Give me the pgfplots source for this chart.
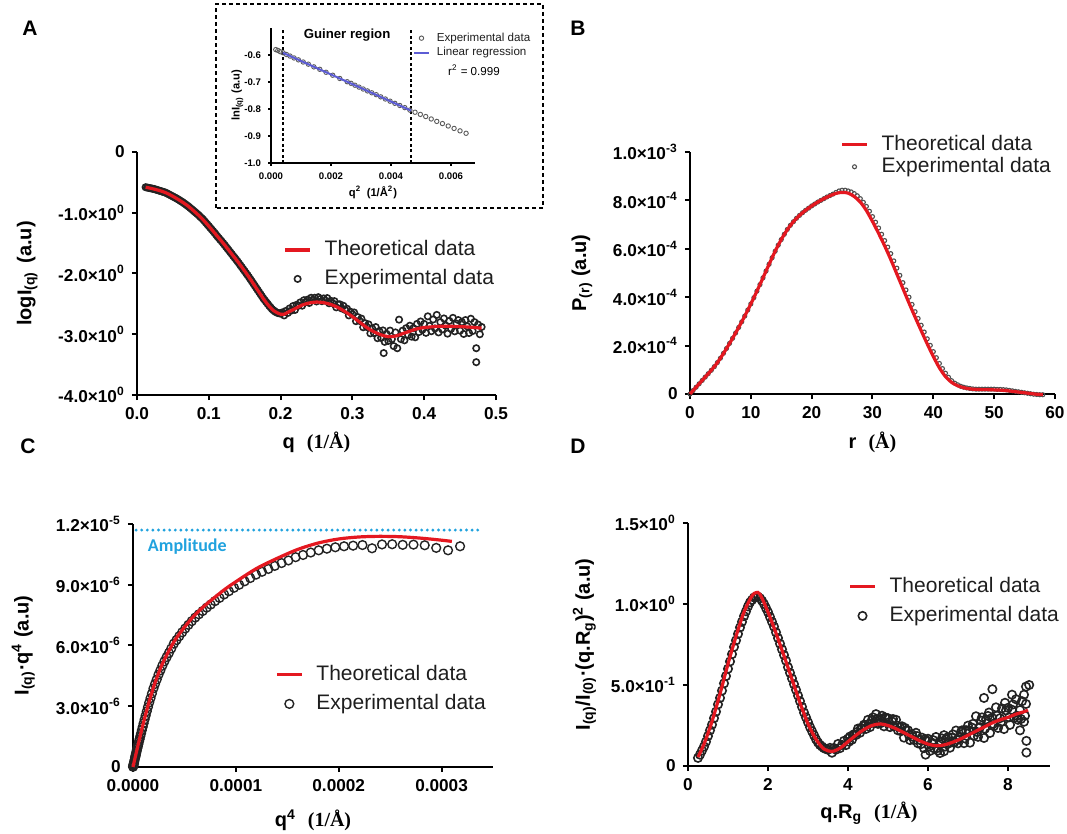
\documentclass[border=0pt]{standalone}
\usepackage{fontspec}
\setmainfont{Liberation Sans}
\newfontfamily\serifU{Liberation Serif}
\newfontfamily\carlito{Carlito}
\usepackage{pgfplots}
\pgfplotsset{compat=1.18}

\definecolor{tred}{RGB}{228,24,32}
\definecolor{expc}{RGB}{35,35,35}
\definecolor{ampc}{RGB}{32,162,222}
\definecolor{regc}{RGB}{92,92,212}
\definecolor{legc}{RGB}{30,30,30}

\newcommand\tickf{\bfseries\fontsize{8.6}{10}\selectfont}
\newcommand\labf{\bfseries\fontsize{10}{12}\selectfont}
\newcommand\legf{\fontsize{10.5}{12}\selectfont}

\pgfplotsset{
  legend image code/.code={\draw[mark repeat=2,mark phase=2,#1] plot coordinates {(0cm,0cm) (0.22cm,0cm) (0.44cm,0cm)};},
  gp/.style={
    scale only axis, anchor=south west, clip=false, clip mode=individual,
    axis lines=left, axis line style={line width=1pt,-},
    tick style={black,line width=1pt}, major tick length=2.6pt, tick align=outside,
    ticklabel style={font=\tickf}, scaled ticks=false,
    legend cell align=left,
    legend style={draw=none, fill=none, font=\legf, text=legc, inner sep=0pt, column sep=5.5pt,
      nodes={inner sep=1pt, text height=7.5pt, text depth=2pt}, row sep=3pt},
  },
  theo/.style={tred, line width=1.6pt, smooth, no marks},
  expt/.style={only marks, mark=o, draw=expc, mark options={line width=0.8pt}, mark size=#1},
}

\begin{document}
\begin{tikzpicture}
\useasboundingbox (0,0) rectangle (533.5pt,417pt);

% panel letters
\node[font=\bfseries\fontsize{10.5}{12}\selectfont] at (15pt,403pt) {A};
\node[font=\bfseries\fontsize{10.5}{12}\selectfont] at (289pt,403pt) {B};
\node[font=\bfseries\fontsize{10.5}{12}\selectfont] at (14pt,194pt) {C};
\node[font=\bfseries\fontsize{10.5}{12}\selectfont] at (289pt,194pt) {D};

% ---------------- A ----------------
\begin{axis}[gp, at={(68.5pt,219.5pt)}, width=179.5pt, height=121.5pt,
  xmin=0, xmax=0.5, ymin=-4, ymax=0,
  xtick={0,0.1,0.2,0.3,0.4,0.5}, xticklabels={0.0,0.1,0.2,0.3,0.4,0.5},
  ytick={-4,-3,-2,-1,0},
  yticklabels={-4.0×10\textsuperscript{0},-3.0×10\textsuperscript{0},-2.0×10\textsuperscript{0},-1.0×10\textsuperscript{0},0},
  xlabel={q\hspace{0.6em}{\serifU(1/Å)}},
  ylabel={logI\textsubscript{(q)}\hspace{0.4em}(a.u)},
  every axis x label/.style={at={(axis description cs:0.5,-0.193)},anchor=center,font=\labf},
  every axis y label/.style={at={(axis description cs:-0.306,0.5)},rotate=90,anchor=center,font=\labf},
  legend style={at={(0.407,0.646)},anchor=north west}, reverse legend]
\addplot[expt=1.6pt] coordinates {
(0.012,-0.58)(0.016,-0.59)(0.020,-0.60)(0.024,-0.61)(0.028,-0.625)(0.032,-0.64)(0.036,-0.655)(0.040,-0.67)
(0.044,-0.695)(0.048,-0.72)(0.052,-0.745)(0.056,-0.77)(0.060,-0.80)(0.064,-0.83)(0.068,-0.865)(0.072,-0.90)
(0.076,-0.94)(0.080,-0.98)(0.084,-1.02)(0.088,-1.065)(0.092,-1.11)(0.096,-1.165)(0.100,-1.22)(0.104,-1.275)
(0.108,-1.33)(0.112,-1.39)(0.116,-1.445)(0.120,-1.50)(0.124,-1.56)(0.128,-1.62)(0.132,-1.68)(0.136,-1.74)
(0.140,-1.80)(0.144,-1.865)(0.148,-1.93)(0.152,-1.995)(0.156,-2.06)(0.160,-2.13)(0.164,-2.20)(0.168,-2.27)
(0.172,-2.34)(0.176,-2.41)(0.180,-2.47)(0.184,-2.53)(0.188,-2.585)(0.192,-2.625)(0.196,-2.65)(0.200,-2.66)
(0.014,-0.585)(0.018,-0.595)(0.022,-0.605)(0.026,-0.617)(0.030,-0.632)(0.034,-0.647)(0.038,-0.662)(0.042,-0.682)
(0.046,-0.707)(0.050,-0.732)(0.054,-0.757)(0.058,-0.785)(0.062,-0.815)(0.066,-0.847)(0.070,-0.882)(0.074,-0.92)
(0.078,-0.96)(0.082,-1.0)(0.086,-1.042)(0.090,-1.087)(0.094,-1.137)(0.098,-1.192)(0.102,-1.247)(0.106,-1.302)
(0.110,-1.36)(0.114,-1.417)(0.118,-1.472)(0.122,-1.53)(0.126,-1.59)(0.130,-1.65)(0.134,-1.71)(0.138,-1.77)
(0.142,-1.832)(0.146,-1.897)(0.150,-1.962)(0.154,-2.027)(0.158,-2.095)(0.162,-2.165)(0.166,-2.235)(0.170,-2.305)
(0.174,-2.375)(0.178,-2.44)(0.182,-2.50)(0.186,-2.557)(0.190,-2.605)(0.194,-2.638)(0.198,-2.655)
(0.2025,-2.64)(0.205,-2.69)(0.2075,-2.615)(0.21,-2.65)(0.2125,-2.575)(0.215,-2.61)(0.2175,-2.535)(0.22,-2.60)
(0.2225,-2.515)(0.225,-2.53)(0.2275,-2.475)(0.23,-2.53)(0.2325,-2.44)(0.235,-2.47)(0.2375,-2.43)(0.24,-2.485)
(0.2425,-2.40)(0.245,-2.435)(0.2475,-2.40)(0.25,-2.46)(0.2525,-2.39)(0.255,-2.42)(0.2575,-2.456)(0.26,-2.41)
(0.2625,-2.447)(0.265,-2.405)(0.2675,-2.49)(0.27,-2.45)(0.2725,-2.49)(0.275,-2.455)(0.2775,-2.557)(0.28,-2.51)
(0.2825,-2.507)(0.285,-2.575)(0.2875,-2.532)(0.29,-2.60)(0.2925,-2.58)(0.295,-2.69)(0.2975,-2.63)(0.30,-2.67)
(0.3025,-2.642)(0.305,-2.785)(0.3075,-2.717)(0.31,-2.78)(0.3125,-2.742)(0.315,-2.885)(0.3175,-2.817)(0.32,-2.88)
(0.3225,-2.837)(0.325,-2.985)(0.3275,-2.902)(0.33,-2.98)(0.3325,-2.882)(0.335,-3.065)(0.3375,-2.947)(0.34,-3.06)
(0.3425,-2.937)(0.3436,-3.31)(0.345,-3.125)(0.3475,-2.992)(0.35,-3.11)(0.3525,-2.94)(0.355,-3.08)(0.3575,-3.195)
(0.36,-2.97)(0.3625,-3.23)(0.365,-2.76)(0.3675,-3.08)(0.37,-2.94)(0.3725,-3.10)(0.375,-2.90)(0.3775,-3.01)
(0.38,-2.86)(0.3825,-3.04)(0.385,-2.90)(0.3875,-3.05)(0.39,-2.83)(0.3925,-2.965)(0.395,-2.79)(0.3975,-2.925)
(0.40,-2.83)(0.4025,-2.977)(0.405,-2.705)(0.4075,-2.862)(0.41,-2.95)(0.4125,-2.757)(0.415,-2.905)(0.4175,-2.682)
(0.42,-2.97)(0.4225,-2.80)(0.425,-2.92)(0.4275,-2.74)(0.43,-2.86)(0.4325,-2.99)(0.435,-2.78)(0.4375,-2.91)
(0.44,-2.73)(0.4425,-2.952)(0.445,-2.825)(0.4475,-2.767)(0.45,-2.94)(0.4525,-2.802)(0.455,-2.995)(0.4575,-2.767)
(0.46,-2.87)(0.4625,-2.98)(0.465,-2.745)(0.4675,-2.947)(0.47,-2.80)(0.4725,-3.23)(0.4725,-3.46)(0.475,-2.84)
(0.4775,-3.00)(0.48,-2.88)};
\addlegendentry{Experimental data}
\addplot[theo] coordinates {
(0.012,-0.58)(0.02,-0.60)(0.03,-0.63)(0.04,-0.67)(0.05,-0.73)(0.06,-0.80)(0.07,-0.88)(0.08,-0.98)
(0.09,-1.09)(0.10,-1.22)(0.11,-1.36)(0.12,-1.50)(0.13,-1.65)(0.14,-1.80)(0.15,-1.96)(0.16,-2.13)
(0.17,-2.31)(0.18,-2.48)(0.19,-2.61)(0.20,-2.67)(0.205,-2.67)(0.21,-2.64)(0.22,-2.58)(0.23,-2.52)
(0.24,-2.485)(0.25,-2.47)(0.26,-2.48)(0.27,-2.51)(0.28,-2.56)(0.29,-2.63)(0.30,-2.71)(0.31,-2.80)
(0.32,-2.89)(0.33,-2.96)(0.34,-3.01)(0.35,-3.04)(0.36,-3.03)(0.37,-2.99)(0.38,-2.95)(0.39,-2.91)
(0.40,-2.89)(0.42,-2.87)(0.44,-2.87)(0.46,-2.88)(0.48,-2.90)};
\addlegendentry{Theoretical data}
\end{axis}

% inset frame
\draw[line width=0.8pt, dash pattern=on 2pt off 1.5pt] (108pt,313pt) rectangle (271.5pt,415pt);

% ---------------- inset ----------------
\begin{axis}[gp, at={(135.5pt,335.5pt)}, width=102pt, height=67.5pt,
  axis line style={line width=0.8pt,-}, tick style={black,line width=0.8pt}, major tick length=1.5pt,
  ticklabel style={font=\bfseries\fontsize{4.8}{6}\selectfont},
  xmin=0, xmax=0.0068, ymin=-1, ymax=-0.5,
  xtick={0,0.002,0.004,0.006}, xticklabels={0.000,0.002,0.004,0.006},
  ytick={-1,-0.9,-0.8,-0.7,-0.6}, yticklabels={-1.0,-0.9,-0.8,-0.7,-0.6},
  xlabel={q\textsuperscript{2}\hspace{0.5em}(1/Å\textsuperscript{2})},
  ylabel={lnI\textsubscript{(q)} (a.u)},
  every axis x label/.style={at={(axis description cs:0.5,-0.215)},anchor=center,font=\bfseries\fontsize{5.6}{7}\selectfont},
  every axis y label/.style={at={(axis description cs:-0.165,0.5)},rotate=90,anchor=center,font=\bfseries\fontsize{5.6}{7}\selectfont},
  legend image code/.code={\draw[mark repeat=2,mark phase=2,#1] plot coordinates {(0cm,0cm) (0.125cm,0cm) (0.25cm,0cm)};},
  legend style={at={(0.696,0.978)},anchor=north west, font=\fontsize{5.8}{7}\selectfont, column sep=3pt,
    nodes={inner sep=0.6pt, text height=4.3pt, text depth=1.3pt}, row sep=0.6pt}]
\addplot[black, line width=0.7pt, dash pattern=on 1.5pt off 1.2pt, forget plot] coordinates {(0.0004,-1)(0.0004,-0.5)};
\addplot[black, line width=0.7pt, dash pattern=on 1.5pt off 1.2pt, forget plot] coordinates {(0.00467,-1)(0.00467,-0.5)};
\addplot[only marks, mark=o, draw=expc!75, mark size=1.1pt, mark options={line width=0.45pt}] coordinates {
(0.000159,-0.580)(0.000229,-0.583)(0.000311,-0.588)(0.000406,-0.592)(0.000514,-0.598)(0.000635,-0.604)
(0.000768,-0.611)(0.000914,-0.618)(0.001073,-0.626)(0.001245,-0.634)(0.001429,-0.644)(0.001626,-0.653)
(0.001835,-0.664)(0.002057,-0.675)(0.002293,-0.687)(0.00254,-0.699)(0.002669,-0.705)(0.0028,-0.712)
(0.002935,-0.719)(0.003074,-0.726)(0.003215,-0.733)(0.003359,-0.740)(0.003507,-0.747)(0.003658,-0.755)
(0.003812,-0.763)(0.003969,-0.771)(0.004129,-0.779)(0.004293,-0.787)(0.00446,-0.795)(0.004629,-0.804)
(0.004802,-0.812)(0.004979,-0.820)(0.005158,-0.828)(0.005341,-0.837)(0.005526,-0.846)(0.005715,-0.854)
(0.005907,-0.863)(0.006103,-0.872)(0.006301,-0.881)(0.006503,-0.890)};
\addlegendentry{Experimental data}
\addplot[regc, line width=1pt, no marks] coordinates {(0.0004,-0.592)(0.00467,-0.806)};
\addlegendentry{Linear regression}
\node[font=\bfseries\fontsize{6.6}{8}\selectfont] at (axis description cs:0.373,0.948) {Guiner region};
\node[font=\fontsize{5.8}{7}\selectfont] at (axis description cs:0.995,0.689) {r\textsuperscript{2} = 0.999};
\end{axis}

% ---------------- B ----------------
\begin{axis}[gp, at={(345pt,220pt)}, width=182.5pt, height=121pt,
  xmin=0, xmax=60, ymin=0, ymax=10,
  xtick={0,10,20,30,40,50,60},
  ytick={0,2,4,6,8,10},
  yticklabels={0,2.0×10\textsuperscript{-4},4.0×10\textsuperscript{-4},6.0×10\textsuperscript{-4},8.0×10\textsuperscript{-4},1.0×10\textsuperscript{-3}},
  xticklabels={0,10,20,30,40,50,60},
  xlabel={r\hspace{0.6em}{\serifU(Å)}},
  ylabel={P\textsubscript{(r)} (a.u)},
  every axis x label/.style={at={(axis description cs:0.5,-0.198)},anchor=center,font=\labf},
  every axis y label/.style={at={(axis description cs:-0.296,0.5)},rotate=90,anchor=center,font=\labf},
  legend style={at={(0.411,1.079)},anchor=north west,row sep=-0.5pt}, reverse legend]
\addplot[only marks, mark=o, draw=expc!80, mark size=1pt, mark options={line width=0.55pt}] coordinates {
(0,0)(0.5,0.14)(1,0.28)(1.5,0.42)(2,0.56)(2.5,0.70)(3,0.84)(3.5,0.98)(4,1.13)(4.5,1.3)(5,1.48)(5.5,1.68)
(6,1.88)(6.5,2.09)(7,2.3)(7.5,2.52)(8,2.75)(8.5,2.98)(9,3.22)(9.5,3.47)(10,3.72)(10.5,3.98)(11,4.25)(11.5,4.52)
(12,4.8)(12.5,5.08)(13,5.36)(13.5,5.63)(14,5.9)(14.5,6.15)(15,6.38)(15.5,6.6)(16,6.8)(16.5,6.97)(17,7.12)(17.5,7.26)
(18,7.38)(18.5,7.49)(19,7.59)(19.5,7.68)(20,7.77)(20.5,7.85)(21,7.93)(21.5,8.0)(22,8.07)(22.5,8.14)(23,8.2)(23.5,8.26)
(24,8.33)(24.5,8.39)(25,8.42)(25.5,8.42)(26,8.39)(26.5,8.35)(27,8.28)(27.5,8.19)(28,8.07)(28.5,7.92)(29,7.75)(29.5,7.55)
(30,7.33)(30.5,7.1)(31,6.86)(31.5,6.6)(32,6.34)(32.5,6.07)(33,5.8)(33.5,5.5)(34,5.2)(34.5,4.9)(35,4.6)(35.5,4.3)
(36,4.0)(36.5,3.7)(37,3.4)(37.5,3.12)(38,2.84)(38.5,2.56)(39,2.28)(39.5,2.01)(40,1.75)(40.5,1.5)(41,1.26)(41.5,1.05)
(42,0.86)(42.5,0.69)(43,0.55)(43.5,0.45)(44,0.38)(44.5,0.32)(45,0.28)(45.5,0.25)(46,0.23)(46.5,0.21)(47,0.2)(47.5,0.2)
(48,0.2)(48.5,0.2)(49,0.2)(49.5,0.2)(50,0.2)(50.5,0.19)(51,0.19)(51.5,0.18)(52,0.17)(52.5,0.15)(53,0.13)(53.5,0.11)
(54,0.09)(54.5,0.07)(55,0.05)(55.5,0.03)(56,0.01)(56.5,-0.01)(57,-0.02)(57.5,-0.03)(58,-0.03)};
\addlegendentry{Experimental data}
\addplot[theo] coordinates {
(0,0)(1,0.28)(2,0.56)(3,0.84)(4,1.13)(5,1.48)(6,1.88)(7,2.3)(8,2.75)(9,3.22)(10,3.72)(11,4.25)(12,4.8)
(13,5.36)(14,5.9)(15,6.38)(16,6.79)(17,7.12)(18,7.38)(19,7.59)(20,7.77)(21,7.93)(22,8.07)(23,8.19)(24,8.29)
(25,8.33)(26,8.3)(27,8.16)(28,7.93)(29,7.58)(30,7.13)(31,6.64)(32,6.12)(33,5.56)(34,4.96)(35,4.36)(36,3.76)
(37,3.18)(38,2.62)(39,2.07)(40,1.55)(41,1.08)(42,0.72)(43,0.48)(44,0.34)(45,0.26)(46,0.21)(47,0.19)(48,0.18)
(49,0.18)(50,0.17)(51,0.16)(52,0.14)(53,0.11)(54,0.08)(55,0.05)(56,0.02)(57,-0.01)(58,-0.02)};
\addlegendentry{Theoretical data}
\end{axis}

% ---------------- C ----------------
\begin{axis}[gp, at={(66.5pt,33.5pt)}, width=180pt, height=121.5pt,
  xmin=0, xmax=3.5, ymin=0, ymax=12,
  xtick={0,1,2,3}, xticklabels={0.0000,0.0001,0.0002,0.0003},
  ytick={0,3,6,9,12},
  yticklabels={0,3.0×10\textsuperscript{-6},6.0×10\textsuperscript{-6},9.0×10\textsuperscript{-6},1.2×10\textsuperscript{-5}},
  xlabel={q\textsuperscript{4}\hspace{0.6em}{\serifU(1/Å)}},
  ylabel={I\textsubscript{(q)}·q\textsuperscript{4} (a.u)},
  every axis x label/.style={at={(axis description cs:0.5,-0.218)},anchor=center,font=\labf},
  every axis y label/.style={at={(axis description cs:-0.305,0.5)},rotate=90,anchor=center,font=\labf},
  legend style={at={(0.394,0.428)},anchor=north west}, reverse legend]
\addplot[ampc, line width=1.6pt, line cap=round, dash pattern=on 0pt off 2.8pt, forget plot] coordinates {(0.03,11.7)(3.37,11.7)};
\node[anchor=west, text=ampc, font=\carlito\bfseries\fontsize{9}{10}\selectfont] at (axis description cs:0.022,0.909) {Amplitude};
\addplot[expt=2.2pt, mark options={line width=0.7pt}] coordinates {
(0.0005,0.011)(0.0017,0.038)(0.004,0.09)(0.0059,0.133)(0.0084,0.19)(0.0115,0.26)(0.0155,0.35)(0.0204,0.46)
(0.0233,0.52)(0.0264,0.59)(0.0299,0.67)(0.0337,0.75)(0.0378,0.84)(0.0423,0.93)(0.0472,1.03)(0.0525,1.13)
(0.0583,1.26)(0.0645,1.38)(0.0712,1.52)(0.0784,1.66)(0.0862,1.82)(0.0945,1.98)(0.1033,2.16)(0.113,2.35)
(0.123,2.54)(0.134,2.75)(0.1453,2.96)(0.1575,3.18)(0.1705,3.4)(0.184,3.63)(0.1988,3.88)(0.214,4.1)
(0.2306,4.32)(0.248,4.56)(0.266,4.77)(0.285,5.0)(0.3054,5.22)(0.327,5.43)(0.3489,5.63)(0.372,5.85)
(0.397,6.09)(0.423,6.27)(0.4498,6.46)(0.478,6.65)(0.508,6.84)(0.539,7.02)(0.571,7.2)(0.605,7.38)
(0.640,7.54)(0.677,7.7)(0.716,7.87)(0.755,8.02)(0.797,8.19)(0.841,8.35)(0.886,8.52)(0.932,8.68)
(0.982,8.85)(1.032,9.0)(1.085,9.17)(1.140,9.33)(1.196,9.5)(1.254,9.64)(1.316,9.78)(1.378,9.93)
(1.444,10.07)(1.511,10.2)(1.581,10.36)(1.653,10.47)(1.728,10.59)(1.805,10.7)(1.885,10.78)(1.967,10.85)
(2.052,10.9)(2.140,10.93)(2.231,10.96)(2.324,10.8)(2.421,10.99)(2.52,11.0)(2.622,10.97)(2.727,10.98)
(2.836,10.95)(2.948,10.82)(3.063,10.7)(3.18,10.9)};
\addlegendentry{Experimental data}
\addplot[theo] coordinates {
(0,0)(0.02,0.45)(0.05,1.1)(0.1,2.15)(0.15,3.1)(0.2,3.95)(0.25,4.65)(0.3,5.25)(0.4,6.2)(0.5,6.9)
(0.6,7.5)(0.7,7.98)(0.8,8.4)(0.9,8.8)(1.0,9.15)(1.2,9.8)(1.4,10.3)(1.6,10.74)(1.8,11.06)(2.0,11.26)
(2.2,11.36)(2.4,11.39)(2.6,11.37)(2.8,11.3)(3.0,11.2)(3.1,11.14)};
\addlegendentry{Theoretical data}
\end{axis}

% ---------------- D ----------------
\begin{axis}[gp, at={(344pt,34pt)}, width=181pt, height=121.5pt,
  xmin=0, xmax=9.05, ymin=0, ymax=1.5,
  xtick={0,2,4,6,8}, xticklabels={0,2,4,6,8},
  ytick={0,0.5,1,1.5},
  yticklabels={0,5.0×10\textsuperscript{-1},1.0×10\textsuperscript{0},1.5×10\textsuperscript{0}},
  xlabel={q.R\textsubscript{g}\hspace{0.6em}{\serifU(1/Å)}},
  ylabel={I\textsubscript{(q)}/I\textsubscript{(0)}·(q.R\textsubscript{g})\textsuperscript{2} (a.u)},
  every axis x label/.style={at={(axis description cs:0.5,-0.193)},anchor=center,font=\labf},
  every axis y label/.style={at={(axis description cs:-0.286,0.5)},rotate=90,anchor=center,font=\labf},
  legend style={at={(0.442,0.786)},anchor=north west}, reverse legend]
\addplot[expt=2.1pt] coordinates {
(0.25,0.05)(0.30,0.07)(0.35,0.095)(0.40,0.12)(0.45,0.15)(0.50,0.185)(0.55,0.22)(0.60,0.255)(0.65,0.295)
(0.70,0.335)(0.75,0.38)(0.80,0.42)(0.85,0.465)(0.90,0.51)(0.95,0.555)(1.00,0.6)(1.05,0.645)(1.10,0.69)
(1.15,0.735)(1.20,0.775)(1.25,0.815)(1.30,0.855)(1.35,0.89)(1.40,0.925)(1.45,0.955)(1.50,0.985)(1.55,1.01)
(1.60,1.025)(1.65,1.04)(1.70,1.045)(1.75,1.045)(1.80,1.035)(1.85,1.02)(1.90,1.0)(1.95,0.975)(2.00,0.95)
(2.05,0.92)(2.10,0.89)(2.15,0.86)(2.20,0.825)(2.25,0.79)(2.30,0.755)(2.35,0.72)(2.40,0.685)(2.45,0.65)
(2.50,0.61)(2.55,0.575)(2.60,0.54)(2.65,0.505)(2.70,0.47)(2.75,0.435)(2.80,0.40)(2.85,0.365)(2.90,0.33)
(2.95,0.30)(3.00,0.27)(3.05,0.24)(3.10,0.215)(3.15,0.19)(3.20,0.165)(3.25,0.145)(3.30,0.13)(3.35,0.12)
(3.40,0.11)(3.45,0.105)(3.50,0.10)
(3.55,0.112)(3.60,0.082)(3.65,0.111)(3.70,0.101)(3.75,0.136)(3.80,0.11)(3.85,0.13)(3.90,0.155)(3.95,0.129)
(4.00,0.169)(4.05,0.182)(4.10,0.162)(4.15,0.196)(4.20,0.191)(4.25,0.231)(4.30,0.205)(4.35,0.23)(4.40,0.255)
(4.45,0.229)(4.50,0.285)(4.55,0.24)(4.60,0.285)(4.65,0.265)(4.70,0.32)(4.75,0.26)(4.80,0.285)(4.85,0.31)
(4.90,0.245)(4.95,0.295)(5.00,0.295)(5.05,0.24)(5.10,0.275)(5.15,0.245)(5.20,0.285)(5.25,0.22)(5.30,0.24)
(5.35,0.245)(5.40,0.175)(5.45,0.22)(5.50,0.22)(5.55,0.16)(5.60,0.195)(5.65,0.16)(5.70,0.205)(5.75,0.14)
(5.80,0.16)(5.85,0.175)(5.90,0.11)(5.95,0.155)(6.00,0.168)(6.05,0.093)(6.10,0.144)(6.15,0.109)(6.20,0.179)
(6.25,0.095)(6.30,0.135)(6.35,0.17)(6.40,0.091)(6.45,0.166)(6.50,0.178)(6.55,0.113)(6.60,0.174)(6.65,0.144)
(6.70,0.219)(6.75,0.14)(6.80,0.18)(6.85,0.22)(6.90,0.141)(6.95,0.221)(7.00,0.249)(7.05,0.144)(7.10,0.237)
(7.15,0.187)(7.20,0.307)(7.25,0.18)(7.30,0.24)(7.35,0.30)(7.40,0.173)(7.45,0.288)(7.50,0.309)(7.55,0.204)
(7.60,0.297)(7.65,0.247)(7.70,0.362)(7.75,0.235)(7.80,0.295)(7.85,0.355)(7.90,0.228)(7.95,0.343)(8.00,0.359)
(8.05,0.254)(8.10,0.347)(8.15,0.297)(8.20,0.412)(8.25,0.285)(8.30,0.345)(8.35,0.40)(8.40,0.273)(8.45,0.383)
(4.025,0.15)(4.125,0.19)(4.225,0.21)(4.325,0.235)(4.425,0.25)(4.525,0.26)(4.625,0.30)(4.725,0.29)(4.825,0.265)
(4.925,0.30)(5.025,0.27)(5.125,0.29)(5.225,0.25)(5.325,0.215)(5.425,0.235)(5.525,0.19)(5.625,0.18)(5.725,0.185)
(5.825,0.135)(5.925,0.165)(6.025,0.12)(6.125,0.16)(6.225,0.11)(6.325,0.15)(6.425,0.12)(6.525,0.14)(6.625,0.195)
(6.725,0.16)(6.825,0.21)(6.925,0.17)(7.025,0.22)(7.125,0.26)(7.225,0.21)(7.325,0.28)(7.425,0.23)(7.525,0.33)
(7.625,0.26)(7.725,0.31)(7.825,0.27)(7.925,0.39)(8.025,0.30)(8.125,0.38)(8.225,0.31)(8.325,0.29)(8.425,0.31)
(7.4,0.42)(7.61,0.474)(8.1,0.44)(8.45,0.49)(8.53,0.50)(8.46,0.155)(8.46,0.083)(5.94,0.07)(6.3,0.08)
(6.4,0.19)(8.3,0.22)(8.4,0.44)};
\addlegendentry{Experimental data}
\addplot[theo] coordinates {
(0.25,0.055)(0.4,0.135)(0.6,0.275)(0.8,0.445)(1.0,0.63)(1.2,0.8)(1.4,0.95)(1.6,1.05)(1.7,1.07)(1.8,1.06)
(2.0,0.95)(2.2,0.82)(2.4,0.68)(2.6,0.535)(2.8,0.39)(3.0,0.26)(3.2,0.165)(3.4,0.105)(3.6,0.09)(3.8,0.11)
(4.0,0.15)(4.2,0.19)(4.4,0.225)(4.6,0.25)(4.8,0.26)(5.0,0.25)(5.2,0.23)(5.4,0.205)(5.6,0.18)(5.8,0.155)
(6.0,0.135)(6.2,0.125)(6.4,0.13)(6.6,0.145)(6.8,0.165)(7.0,0.19)(7.2,0.215)(7.4,0.24)(7.6,0.265)(7.8,0.285)
(8.0,0.30)(8.2,0.32)(8.4,0.335)(8.5,0.345)};
\addlegendentry{Theoretical data}
\end{axis}
\end{tikzpicture}
\end{document}
